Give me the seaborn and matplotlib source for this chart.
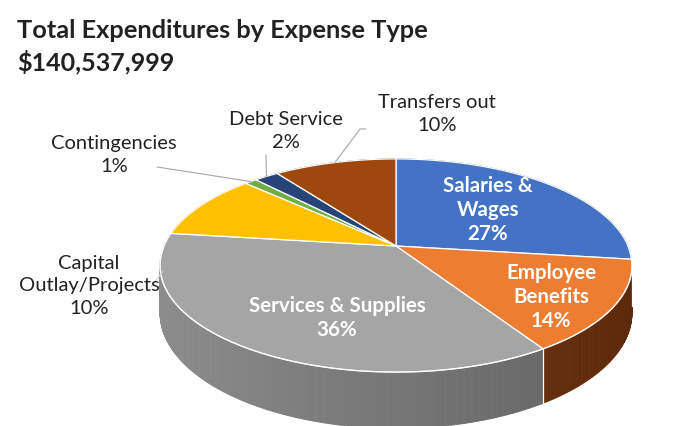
import numpy as np
import matplotlib
matplotlib.use("Agg")
import matplotlib.pyplot as plt
import matplotlib.colors as mcolors
import seaborn as sns

# Expense breakdown (percent of total), clockwise from 12 o'clock
categories = ["Salaries &\nWages", "Employee\nBenefits", "Services & Supplies",
              "Capital\nOutlay/Projects", "Contingencies", "Debt Service", "Transfers out"]
shares = [27, 14, 36, 10, 1, 2, 10]
top_colors = ["#4472C4", "#ED7D31", "#A5A5A5", "#FFC000", "#70AD47", "#264478", "#9E480E"]
side_colors = ["#2F5597", "#8A3E10", "#8E8E8E", "#B38600", "#4E7A31", "#1A3055", "#6E320A"]
title_lines = ["Total Expenditures by Expense Type", "$140,537,999"]

sns.set_theme(style="white")
plt.rcParams["font.family"] = ["Lato", "DejaVu Sans"]

W, H = 697, 427
fig = plt.figure(figsize=(W / 100, H / 100), dpi=100)
ax = fig.add_axes([0, 0, 1, 1])
ax.set_xlim(0, W)
ax.set_ylim(H, 0)
ax.axis("off")
fig.patch.set_facecolor("white")

# 3D disk geometry (screen pixels) with a mild perspective
cx, cy = 396, 247
a, b = 232, 103
persp = 0.183
depth = 46


def proj(theta, z=0.0, r=1.0):
    u = r * np.sin(theta)
    v = -r * np.cos(theta)
    s = 1.0 / (1.0 - persp * v)
    return cx + a * u * s, cy + (b * v + z) * s


fracs = np.array(shares, dtype=float) / np.sum(shares)
bounds = np.concatenate([[0], np.cumsum(fracs)]) * 2 * np.pi

# side wall, drawn back to front
quads = []
for i, (t0, t1) in enumerate(zip(bounds[:-1], bounds[1:])):
    n = max(2, int(np.ceil((t1 - t0) / 0.01)))
    ts = np.linspace(t0, t1, n + 1)
    for ta, tb in zip(ts[:-1], ts[1:]):
        tm = 0.5 * (ta + tb)
        quads.append((-np.cos(tm), i, ta, tb, tm))
quads.sort(key=lambda q: q[0])
for v, i, ta, tb, tm in quads:
    xa, ya = proj(ta)
    xb, yb = proj(tb)
    xa2, ya2 = proj(ta, depth)
    xb2, yb2 = proj(tb, depth)
    u = np.sin(tm)
    shade = 1.0 - 0.17 * (u + 1.0)
    base = np.array(mcolors.to_rgb(side_colors[i]))
    col = np.clip(base * shade, 0, 1)
    ax.fill([xa, xb, xb2, xa2], [ya, yb, yb2, ya2], color=col, lw=0.6,
            ec=col, zorder=1)

# white seams on the wall at slice boundaries facing the viewer
for t in bounds[1:-1]:
    if -np.cos(t) > 0.1:
        x0, y0 = proj(t)
        x1, y1 = proj(t, depth)
        ax.plot([x0, x1], [y0, y1], color="white", lw=0.9, zorder=2)

# top surface slices
for i, (t0, t1) in enumerate(zip(bounds[:-1], bounds[1:])):
    ts = np.linspace(t0, t1, max(3, int((t1 - t0) / 0.01)))
    xs, ys = proj(ts)
    px = np.concatenate([[cx], xs])
    py = np.concatenate([[cy], ys])
    ax.fill(px, py, color=top_colors[i], ec="white", lw=0.9, zorder=3)

# front rim highlight
ts = np.linspace(np.pi / 2, 3 * np.pi / 2, 200)
rx, ry = proj(ts)
ax.plot(rx, ry, color="white", lw=0.9, alpha=0.8, zorder=4)

# titles
ax.text(17, 30, title_lines[0], fontsize=18.3, fontweight="bold",
        color="#222222", ha="left", va="center", zorder=6)
ax.text(17, 62, title_lines[1], fontsize=18.0, fontweight="bold",
        color="#222222", ha="left", va="center", zorder=6)

# data labels
def label_text(i):
    return f"{categories[i]}\n{shares[i]}%"

inner = {0: (488, 210), 1: (551, 297), 2: (337, 318)}
for i, (x, y) in inner.items():
    ax.text(x, y, label_text(i), fontsize=14.8, fontweight="bold", color="white",
            ha="center", va="center", linespacing=1.27, zorder=6)

outer = {6: (437, 114), 5: (286, 131), 4: (114, 155), 3: (89, 286)}
for i, (x, y) in outer.items():
    ax.text(x, y, label_text(i), fontsize=14.5, color="#222222",
            ha="center", va="center", linespacing=1.36, zorder=6)

# leader lines
lc = "#A6A6A6"
mid = lambda k: 0.5 * (bounds[k] + bounds[k + 1])
ex, ey = proj(mid(6))
ax.plot([366, 360, ex], [130, 130, ey], color=lc, lw=0.8, zorder=5)
ex, ey = proj(mid(5))
ax.plot([266, ex], [156, ey], color=lc, lw=0.8, zorder=5)
ex, ey = proj(mid(4))
ax.plot([157, ex], [168, ey], color=lc, lw=0.8, zorder=5)
ax.plot([151, 163], [288, 272], color="#D0D0D0", lw=0.8, zorder=5)

fig.savefig("out.png", dpi=100, facecolor="white")
